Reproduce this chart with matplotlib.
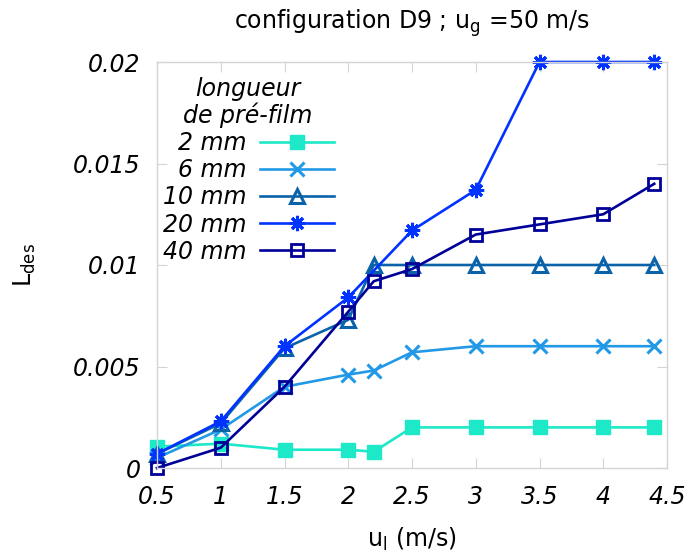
import matplotlib
matplotlib.use("Agg")
import matplotlib.pyplot as plt
from matplotlib.ticker import FixedLocator, FuncFormatter

plt.rcParams['font.family'] = ['DejaVu Sans']
plt.rcParams['mathtext.default'] = 'regular'

# data
u_l = [0.5, 1.0, 1.5, 2.0, 2.2, 2.5, 3.0, 3.5, 4.0, 4.4]
u_l_20 = [0.5, 1.0, 1.5, 2.0, 2.5, 3.0, 3.5, 4.0, 4.4]
L_2mm = [0.00105, 0.0012, 0.0009, 0.0009, 0.0008, 0.002, 0.002, 0.002, 0.002, 0.002]
L_6mm = [0.0005, 0.0019, 0.004, 0.0046, 0.0048, 0.0057, 0.006, 0.006, 0.006, 0.006]
L_10mm = [0.0007, 0.0022, 0.0059, 0.0073, 0.01, 0.01, 0.01, 0.01, 0.01, 0.01]
L_20mm = [0.0007, 0.0023, 0.006, 0.0084, 0.0117, 0.0137, 0.02, 0.02, 0.02]
L_40mm = [0.0, 0.001, 0.004, 0.0077, 0.0092, 0.0098, 0.0115, 0.012, 0.0125, 0.014]
labels = ['2 mm', '6 mm', '10 mm', '20 mm', '40 mm']
x_ticks = [0.5, 1, 1.5, 2, 2.5, 3, 3.5, 4, 4.5]
y_ticks = [0, 0.005, 0.01, 0.015, 0.02]
title = r'configuration D9 ; u$_{\rm g}$ =50 m/s'
xlabel = r'u$_{\rm l}$ (m/s)'
ylabel = r'L$_{\rm des}$'
legend_title = 'longueur\nde pré-film'

fig = plt.figure(figsize=(6.89, 5.54), dpi=100)
ax = fig.add_axes([157/689, 1-468/554, 510/689, 406/554])

lw = 1.9
common = dict(lw=lw, clip_on=False)
ax.plot(u_l, L_2mm, color='#1de9c8', marker='s', ms=9.5, mec='#1de9c8', mfc='#1de9c8', label=labels[0], **common)
ax.plot(u_l, L_6mm, color='#2299e6', marker='x', ms=10, mew=2.2, label=labels[1], **common)
ax.plot(u_l, L_10mm, color='#0a62a8', marker='^', ms=9.5, mew=2.2, mfc='none', label=labels[2], **common)
ax.plot(u_l_20, L_20mm, color='#0033ff', marker=(8, 2, 0), ms=11, mew=2.2, label=labels[3], **common)
ax.plot(u_l, L_40mm, color='#000099', marker='s', ms=8.5, mew=2.0, mfc='none', label=labels[4], **common)

ax.set_xlim(0.5, 4.5)
ax.set_ylim(0, 0.02)
ax.xaxis.set_major_locator(FixedLocator(x_ticks))
ax.yaxis.set_major_locator(FixedLocator(y_ticks))
fmt = FuncFormatter(lambda v, p: '%g' % round(v, 6))
ax.xaxis.set_major_formatter(fmt)
ax.yaxis.set_major_formatter(fmt)
ax.tick_params(direction='in', length=7, width=0.8, color='#d4d4d4', top=True, right=True,
               labelsize=17, pad=12)
for lab in ax.get_xticklabels() + ax.get_yticklabels():
    lab.set_fontstyle('italic')
for s in ax.spines.values():
    s.set_color('#d4d4d4')
    s.set_linewidth(1.0)

ax.set_title(title, fontsize=17, pad=24)
ax.set_xlabel(xlabel, fontsize=17)
ax.set_ylabel(ylabel, fontsize=17)
ax.xaxis.set_label_coords(0.5, (468-539)/406)
ax.xaxis.label.set_verticalalignment('center')
ax.yaxis.set_label_coords((25-157)/510, 0.5)
ax.yaxis.label.set_verticalalignment('center')

leg = ax.legend(loc='upper left', bbox_to_anchor=(158/689, 1-72/554), bbox_transform=fig.transFigure,
                frameon=False, markerfirst=False, fontsize=17, title=legend_title,
                title_fontsize=17, handlelength=3.1, handletextpad=0.6, labelspacing=0.13,
                borderpad=0.2, borderaxespad=0)
leg.get_title().set_fontstyle('italic')
leg.get_title().set_multialignment('center')
leg.get_title().set_linespacing(1.1)
for t in leg.get_texts():
    t.set_fontstyle('italic')
    t.set_horizontalalignment('right')

fig.savefig('out.png', dpi=100)
